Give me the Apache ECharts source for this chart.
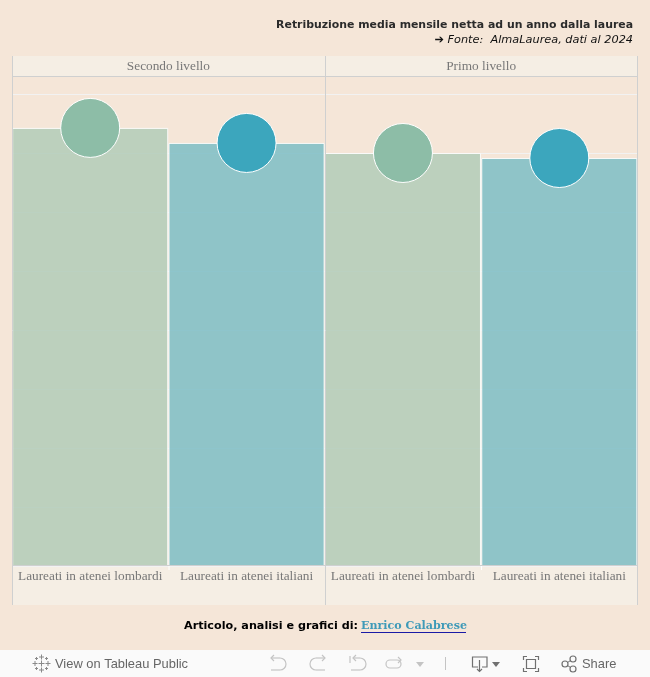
<!DOCTYPE html>
<html>
<head>
<meta charset="utf-8">
<style>html,body{margin:0;padding:0;background:#F5E6D8}#c{width:650px;height:677px}</style>
<script src="https://cdn.jsdelivr.net/npm/echarts@6/dist/echarts.min.js"></script>
</head>
<body>
<div id="c"></div>
<script>
const facets = ["Secondo livello", "Primo livello"];
const categories = ["Laureati in atenei lombardi", "Laureati in atenei italiani", "Laureati in atenei lombardi", "Laureati in atenei italiani"];
const lombardi = [1485, null, 1400, null];
const italiani = [null, 1434, null, 1383];
const titleText = "Retribuzione media mensile netta ad un anno dalla laurea";
const sourceText = "➔ Fonte:  AlmaLaurea, dati al 2024";
const creditText = "Articolo, analisi e grafici di:";
const authorText = "Enrico Calabrese";

const bg = "#F5E6D8", panel = "#F5EEE4", border = "#CFD0D0";
const green = "#8DBDA7", teal = "#3CA6BD", barGreen = "#B2CBB8", barTeal = "#7DBDC6";
const labelCol = "#777777", iconCol = "#8a8a8a", iconLight = "#c4c4c4";
const serif = "'Liberation Serif'";
const boldSerif = "'DejaVu Serif'";
const sans = "'DejaVu Sans'";

const chart = echarts.init(document.getElementById("c"), null, {renderer: "canvas"});

function line(x1, y1, x2, y2, color, z, w) {
  return {type: "line", z: z, silent: true, shape: {x1, y1, x2, y2}, style: {stroke: color, lineWidth: w || 1}};
}
function rect(x, y, width, height, fill, z) {
  return {type: "rect", z: z, silent: true, shape: {x, y, width, height}, style: {fill}};
}
function poly(points, color, w) {
  return {type: "polyline", z: 11, silent: true, shape: {points}, style: {stroke: color, fill: null, lineWidth: w || 1.2}};
}
function arc(cx, cy, r, a, b, color) {
  return {type: "arc", z: 11, silent: true, shape: {cx, cy, r, startAngle: a, endAngle: b}, style: {stroke: color, fill: null, lineWidth: 1.2}};
}
function txt(x, y, text, font, fill, align) {
  return {type: "text", z: 12, silent: true, x, y, style: {text, font, fill, align: align || "left", verticalAlign: "middle"}};
}
function cross(cx, cy, s, color) {
  return [line(cx - s, cy, cx + s, cy, color, 11, 1), line(cx, cy - s, cx, cy + s, color, 11, 1)];
}

const graphics = [
  rect(12, 56, 625, 20, panel, 0),
  rect(12, 566, 625, 39, panel, 0),
  rect(0, 650, 650, 27, "#FAFAFA", 0),
  line(12.5, 56, 12.5, 605, border, 10),
  line(325.5, 56, 325.5, 605, border, 10),
  line(637.5, 56, 637.5, 605, border, 10),
  line(12, 76.5, 638, 76.5, border, 10),
  line(12, 565.5, 638, 565.5, border, 10),
  line(169, 566, 169, 570, "#FFFFFF", 10),
  line(481.5, 566, 481.5, 570, "#FFFFFF", 10),
  txt(633, 25.5, titleText, "bold 10.9px " + sans, "#2B2B2B", "right"),
  txt(633, 40.5, sourceText, "italic 11.3px " + sans, "#111111", "right"),
  txt(358, 626.5, creditText, "bold 11.2px " + sans, "#000000", "right"),
  txt(361, 626.5, authorText, "bold 11.1px " + boldSerif, "#3F9AB8"),
  line(361, 632.5, 466, 632.5, "#1A1AA6", 11),
  // toolbar
  ...cross(41.5, 657, 2.5, iconCol), ...cross(41.5, 670, 2.5, iconCol),
  ...cross(35, 663.5, 2.5, iconCol), ...cross(48, 663.5, 2.5, iconCol),
  ...cross(41.5, 663.5, 3, iconCol),
  ...cross(36.5, 658.5, 1.5, iconCol), ...cross(46.5, 658.5, 1.5, iconCol),
  ...cross(36.5, 668.5, 1.5, iconCol), ...cross(46.5, 668.5, 1.5, iconCol),
  txt(55, 664, "View on Tableau Public", "12.9px 'Liberation Sans'", "#666666"),
  // undo
  poly([[274, 655], [271, 658], [274, 661]], iconLight), poly([[271, 658], [280, 658]], iconLight),
  arc(280, 664, 6, -Math.PI / 2, Math.PI / 2, iconLight), poly([[280, 670], [271, 670]], iconLight),
  // redo
  poly([[322, 655], [325, 658], [322, 661]], iconLight), poly([[325, 658], [316, 658]], iconLight),
  arc(316, 664, 6, Math.PI / 2, Math.PI * 1.5, iconLight), poly([[316, 670], [325, 670]], iconLight),
  // revert
  poly([[350, 656], [350, 663]], iconLight), poly([[356, 655], [353, 658], [356, 661]], iconLight),
  poly([[353, 658], [360, 658]], iconLight), arc(360, 664, 6, -Math.PI / 2, Math.PI / 2, iconLight),
  poly([[360, 670], [351, 670]], iconLight),
  // refresh
  {type: "rect", z: 11, silent: true, shape: {x: 386, y: 660, width: 15, height: 8, r: 4}, style: {stroke: iconLight, fill: null, lineWidth: 1.2}},
  poly([[398, 657], [401, 660], [398, 663]], iconLight),
  {type: "polygon", z: 11, silent: true, shape: {points: [[416, 662], [424, 662], [420, 667]]}, style: {fill: iconLight}},
  line(445.5, 657, 445.5, 670, iconLight, 11),
  // download
  poly([[478, 667], [472.5, 667], [472.5, 657], [487, 657], [487, 667], [482, 667]], "#707070"),
  poly([[479.5, 660], [479.5, 671]], "#707070"), poly([[477, 669], [479.5, 671.5], [482, 669]], "#707070"),
  {type: "polygon", z: 11, silent: true, shape: {points: [[492, 662], [500, 662], [496, 667]]}, style: {fill: "#707070"}},
  // fullscreen
  poly([[523.5, 660], [523.5, 656.5], [527, 656.5]], "#707070"), poly([[535, 656.5], [538.5, 656.5], [538.5, 660]], "#707070"),
  poly([[523.5, 668], [523.5, 671.5], [527, 671.5]], "#707070"), poly([[535, 671.5], [538.5, 671.5], [538.5, 668]], "#707070"),
  {type: "rect", z: 11, silent: true, shape: {x: 526.5, y: 659.5, width: 9, height: 9}, style: {stroke: "#707070", fill: null, lineWidth: 1.2}},
  // share
  {type: "circle", z: 11, silent: true, shape: {cx: 565, cy: 664, r: 3}, style: {stroke: "#707070", fill: null, lineWidth: 1.2}},
  {type: "circle", z: 11, silent: true, shape: {cx: 573, cy: 659, r: 3}, style: {stroke: "#707070", fill: null, lineWidth: 1.2}},
  {type: "circle", z: 11, silent: true, shape: {cx: 573, cy: 669, r: 3}, style: {stroke: "#707070", fill: null, lineWidth: 1.2}},
  line(567.6, 662.4, 570.5, 660.6, "#707070", 11), line(567.6, 665.6, 570.5, 667.4, "#707070", 11),
  txt(582, 664, "Share", "12.9px 'Liberation Sans'", "#666666")
];

function barSeries(name, data, color) {
  return {
    name, type: "bar", data, barGap: "-100%", barCategoryGap: "0.2%", z: 2,
    itemStyle: {color, opacity: 0.85, borderColor: "#FFFFFF", borderWidth: 1},
    silent: true
  };
}
function dotSeries(name, data, color) {
  return {
    name, type: "scatter", data, symbol: "circle", symbolSize: 59, z: 5,
    itemStyle: {color, opacity: 1, borderColor: "#FFFFFF", borderWidth: 1},
    silent: true
  };
}

chart.setOption({
  animation: false,
  backgroundColor: bg,
  grid: {left: 12, width: 625.5, top: 76, height: 490, containLabel: false},
  xAxis: [
    {
      type: "category", position: "bottom", data: categories,
      axisTick: {show: false}, axisLine: {show: false}, splitLine: {show: false},
      axisLabel: {interval: 0, color: labelCol, fontFamily: serif, fontSize: 13.3, margin: 4, lineHeight: 14, verticalAlign: "top"}
    },
    {
      type: "category", position: "top", data: facets,
      axisTick: {show: false}, axisLine: {show: false}, splitLine: {show: false},
      axisLabel: {interval: 0, color: labelCol, fontFamily: serif, fontSize: 13.3, margin: 3}
    }
  ],
  yAxis: {
    type: "value", min: 0, max: 1661, interval: 200,
    axisLabel: {show: false}, axisTick: {show: false}, axisLine: {show: false},
    splitLine: {show: true, lineStyle: {color: "#F2F2F2", width: 1}}
  },
  series: [
    barSeries("Laureati in atenei lombardi", lombardi, barGreen),
    barSeries("Laureati in atenei italiani", italiani, barTeal),
    dotSeries("Laureati in atenei lombardi", lombardi, green),
    dotSeries("Laureati in atenei italiani", italiani, teal)
  ],
  graphic: {elements: graphics}
});
</script>
</body>
</html>
